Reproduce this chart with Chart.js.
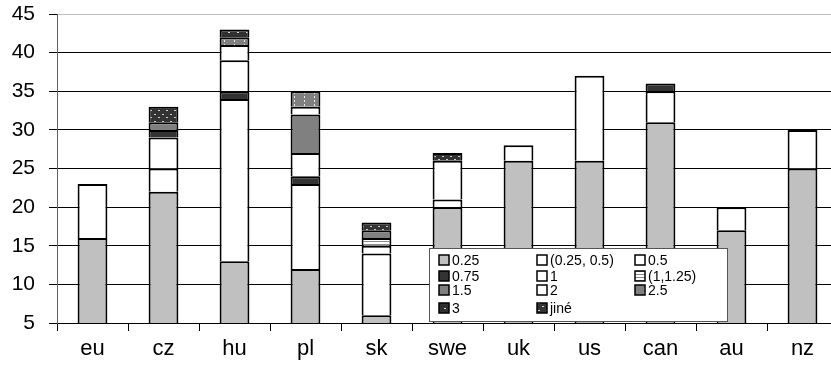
<!DOCTYPE html>
<html>
<head>
<meta charset="utf-8">
<script src="https://cdn.jsdelivr.net/npm/chart.js@4/dist/chart.umd.min.js"></script>
<style>
  html, body { margin: 0; padding: 0; background: #fff; overflow: hidden; }
  #wrap { position: relative; width: 846px; height: 375px; }
</style>
</head>
<body>
<div id="wrap"><canvas id="c" width="846" height="375"></canvas></div>
<script>
// Categories (countries) and stacked series
const categories = ['eu', 'cz', 'hu', 'pl', 'sk', 'swe', 'uk', 'us', 'can', 'au', 'nz'];
const seriesNames = ['0.25', '(0.25, 0.5)', '0.5', '0.75', '1', '(1,1.25)', '1.5', '2', '2.5', '3', 'jiné'];

const s025    = [16, 22, 13, 12, 6, 20, 26, 26, 31, 17, 25];
const s025_05 = [0, 3, 0, 0, 0, 1, 0, 0, 0, 0, 0];
const s05     = [7, 4, 21, 11, 8, 5, 2, 11, 4, 3, 5];
const s075    = [0, 1, 1, 1, 0, 0, 0, 0, 1, 0, 0];
const s1      = [0, 0, 4, 3, 1, 0, 0, 0, 0, 0, 0];
const s1_125  = [0, 0, 0, 0, 1, 0, 0, 0, 0, 0, 0];
const s15     = [0, 1, 0, 5, 1, 0, 0, 0, 0, 0, 0];
const s2      = [0, 0, 2, 1, 0, 0, 0, 0, 0, 0, 0];
const s25     = [0, 0, 1, 2, 0, 0, 0, 0, 0, 0, 0];
const s3      = [0, 0, 1, 0, 0, 0, 0, 0, 0, 0, 0];
const sOther  = [0, 2, 0, 0, 1, 1, 0, 0, 0, 0, 0];

const yTicks = [5, 10, 15, 20, 25, 30, 35, 40, 45];

// Fill patterns
function makePattern(w, h, draw) {
  const c = document.createElement('canvas');
  c.width = w; c.height = h;
  const g = c.getContext('2d');
  draw(g);
  return g.createPattern(c, 'repeat');
}
const hatchLines = makePattern(4, 3, g => {
  g.fillStyle = '#ffffff'; g.fillRect(0, 0, 4, 3);
  g.fillStyle = '#8c8c8c'; g.fillRect(0, 1, 4, 1);
});
const dottedGray = makePattern(10, 4, g => {
  g.fillStyle = '#808080'; g.fillRect(0, 0, 10, 4);
  g.fillStyle = '#e8e8e8'; g.fillRect(4, 0, 1, 2);
});
const dottedDark = makePattern(8, 7, g => {
  g.fillStyle = '#333333'; g.fillRect(0, 0, 8, 7);
  g.fillStyle = '#cfcfcf'; g.fillRect(2, 2, 2, 1); g.fillRect(6, 5, 2, 1);
});
const dottedDark2 = makePattern(9, 6, g => {
  g.fillStyle = '#303030'; g.fillRect(0, 0, 9, 6);
  g.fillStyle = '#d8d8d8'; g.fillRect(3, 2, 2, 1);
});

const seriesValues = [s025, s025_05, s05, s075, s1, s1_125, s15, s2, s25, s3, sOther];
const seriesFills = ['#c0c0c0', '#ffffff', '#ffffff', '#333333', '#ffffff', hatchLines,
                     '#808080', '#ffffff', dottedGray, dottedDark2, dottedDark];

const datasets = seriesNames.map((name, i) => ({
  label: name,
  data: seriesValues[i],
  backgroundColor: seriesFills[i],
  borderColor: '#000000',
  borderWidth: 2,
  borderSkipped: 'start',
  barPercentage: 0.42,
  categoryPercentage: 1.0
}));

const FONT = "'Liberation Sans', Arial, sans-serif";

// Legend box drawn inside the plot area, three columns
const boxLegend = {
  id: 'boxLegend',
  afterDatasetsDraw(chart) {
    const ctx = chart.ctx;
    const bx = 429, by = 248, bw = 298, bh = 73;
    ctx.save();
    ctx.fillStyle = '#ffffff';
    ctx.fillRect(bx, by, bw, bh);
    ctx.strokeStyle = '#555555';
    ctx.lineWidth = 1;
    ctx.strokeRect(bx + 0.5, by + 0.5, bw, bh);
    const colX = [439, 537, 635];
    const rowY = [260, 276, 290, 308];
    ctx.font = '14px ' + FONT;
    ctx.textBaseline = 'middle';
    ctx.textAlign = 'left';
    chart.data.datasets.forEach((ds, i) => {
      const x = colX[i % 3], y = rowY[Math.floor(i / 3)];
      ctx.fillStyle = ds.backgroundColor;
      ctx.fillRect(x, y - 5, 10, 10);
      ctx.strokeStyle = '#000000';
      ctx.lineWidth = 1.5;
      ctx.strokeRect(x, y - 5, 10, 10);
      ctx.fillStyle = '#000000';
      ctx.fillText(ds.label, x + 13, y + 1);
    });
    ctx.restore();
  }
};

new Chart(document.getElementById('c'), {
  type: 'bar',
  data: { labels: categories, datasets },
  options: {
    responsive: false,
    animation: false,
    devicePixelRatio: 1,
    layout: { padding: { top: 14, right: 8, left: 0, bottom: 0 } },
    plugins: { legend: { display: false }, tooltip: { enabled: false } },
    scales: {
      x: {
        stacked: true,
        offset: true,
        grid: { offset: true, drawOnChartArea: false, tickLength: 8, tickColor: '#000000' },
        border: { color: '#000000', width: 1 },
        ticks: { color: '#000000', font: { family: FONT, size: 22 }, padding: 5 },
        afterFit(scale) { scale.height = 52; scale.paddingLeft = 0; scale.paddingRight = 0; }
      },
      y: {
        stacked: true,
        min: yTicks[0],
        max: yTicks[yTicks.length - 1],
        afterBuildTicks(scale) { scale.ticks = yTicks.map(v => ({ value: v })); },
        grid: {
          color: c => (c.tick && c.tick.value === 45 ? '#c0c0c0' : '#000000'),
          lineWidth: 1,
          tickLength: 8,
          tickColor: '#000000'
        },
        border: { color: '#606060', width: 1 },
        ticks: { color: '#000000', font: { family: FONT, size: 21 }, padding: 14 },
        afterFit(scale) { scale.width = 57; scale.paddingTop = 0; scale.paddingBottom = 0; }
      }
    }
  },
  plugins: [boxLegend]
});
</script>
</body>
</html>
